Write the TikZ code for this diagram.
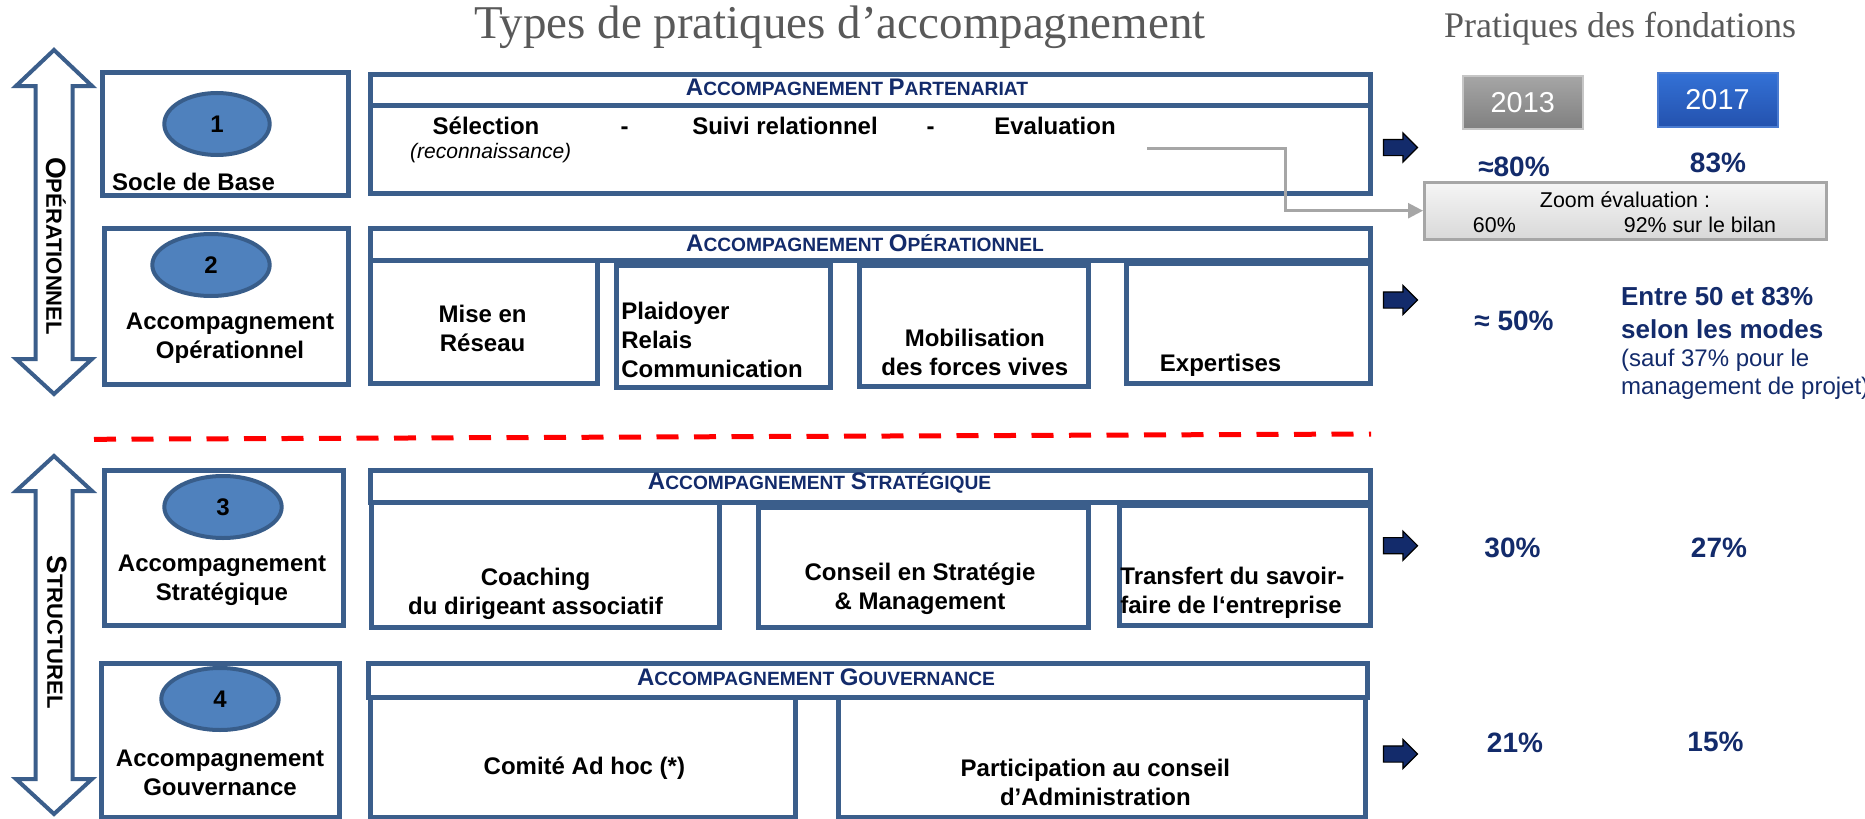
\documentclass[tikz,border=0pt]{standalone}
\usepackage{fontspec}
\setmainfont{Liberation Sans}
\newfontfamily\titlefont{Liberation Serif}
\usetikzlibrary{shapes.geometric,shapes.arrows,arrows.meta}

\definecolor{frameblue}{HTML}{3B5E8B}
\definecolor{numfill}{HTML}{4F81BD}
\definecolor{numline}{HTML}{385D8A}
\definecolor{navy}{HTML}{132B6B}
\definecolor{titlegray}{HTML}{595959}
\definecolor{linkgray}{HTML}{A6A6A6}

% fake small caps: big first letter, small rest
\newcommand{\capsA}[2]{{\fontsize{12}{14}\selectfont #1}{\fontsize{9.6}{14}\selectfont #2}}
\newcommand{\capsB}[2]{{\fontsize{14}{16}\selectfont #1}{\fontsize{11}{16}\selectfont #2}}

\tikzset{
  cell/.style={draw=frameblue,line width=2.5pt,fill=white,inner sep=0pt,anchor=north west},
  dblarrow/.style={draw=frameblue,line width=2pt,fill=white,line join=miter},
  linkline/.style={draw=linkgray,line width=1.3pt,-{Triangle[length=7.5pt,width=7.5pt]}}
}

\begin{document}
\begin{tikzpicture}[x=0.5pt,y=-0.5pt,
  boxtxt/.style={font=\fontsize{12}{14.5}\selectfont\bfseries,align=center,inner sep=0pt},
  headtxt/.style={font=\bfseries,text=navy,inner sep=0pt},
  pct/.style={font=\fontsize{14}{16}\selectfont\bfseries,text=navy,inner sep=0pt},
  numoval/.style={ellipse,draw=numline,line width=2pt,fill=numfill,minimum height=31pt,inner sep=0pt,font=\fontsize{12}{14}\selectfont\bfseries},
  blockarrow/.style={single arrow,fill=navy,draw=black,line width=0.6pt,minimum height=17pt,inner xsep=0pt,inner ysep=3.75pt,single arrow head extend=3.25pt},
  smalltxt/.style={font=\fontsize{10.7}{12}\selectfont,inner sep=0pt}]

\path[use as bounding box,fill=white] (0,0) rectangle (1865,819);

% titles
\node[font=\titlefont\fontsize{23.5}{26}\selectfont,text=titlegray,anchor=base] (title) at (840,39) {Types de pratiques d’accompagnement};
\node[font=\titlefont\fontsize{18}{20}\selectfont,text=titlegray,anchor=base] (subtitle) at (1620,38) {Pratiques des fondations};

% vertical double arrows
\draw[dblarrow] (54,50) -- (92,86) -- (72.5,86) -- (72.5,359) -- (92,359) -- (54,394) -- (16,359) -- (35.5,359) -- (35.5,86) -- (16,86) -- cycle;
\draw[dblarrow] (54,456) -- (92,491) -- (72.5,491) -- (72.5,779) -- (92,779) -- (54,814) -- (16,779) -- (35.5,779) -- (35.5,491) -- (16,491) -- cycle;
\node[rotate=-90,font=\bfseries,inner sep=0pt] (oper) at (56,246) {\capsB{O}{PÉRATIONNEL}};
\node[rotate=-90,font=\bfseries,inner sep=0pt] (struct) at (57,632) {\capsB{S}{TRUCTUREL}};

% left boxes
\node[cell,minimum width=123pt,minimum height=61.5pt] (B1) at (100,70) {};
\node[cell,minimum width=122pt,minimum height=78pt] (B2) at (102,226) {};
\node[cell,minimum width=119.5pt,minimum height=77.5pt] (B3) at (102,468) {};
\node[cell,minimum width=119pt,minimum height=77pt] (B4) at (99,661) {};
\foreach \x/\y/\w [count=\n] in {217/124/52.7,211/265/58.7,223/507/58.7,220/699/58.7}
  \node[numoval,minimum width=\w pt] (E\n) at (\x,\y) {\n};
\node[boxtxt] (t1) at (193.5,182) {Socle de Base};
\node[boxtxt] (t2) at (230,338) {Accompagnement\\Opérationnel};
\node[boxtxt] (t3) at (222,580) {Accompagnement\\Stratégique};
\node[boxtxt] (t4) at (220,773) {Accompagnement\\Gouvernance};

% partenariat
\node[cell,minimum width=500pt,minimum height=44pt] (P1) at (368,103) {};
\node[cell,minimum width=500pt,minimum height=15.5pt] (H1) at (368,72) {};
\node[headtxt] (h1) at (857,87) {\capsA{A}{CCOMPAGNEMENT} \capsA{P}{ARTENARIAT}};
\node[boxtxt] (selec) at (486,126) {Sélection};
\node[font=\fontsize{10.5}{12}\selectfont\itshape,inner sep=0pt] (reco) at (490.7,153) {(reconnaissance)};
\node[boxtxt,anchor=base] (d1) at (624.6,134.5) {-};
\node[boxtxt] (suivi) at (785,126) {Suivi relationnel};
\node[boxtxt,anchor=base] (d2) at (930.6,134.5) {-};
\node[boxtxt] (evalu) at (1055,126) {Evaluation};

% operationnel
\node[cell,minimum width=500pt,minimum height=16pt] (H2) at (368,226) {};
\node[headtxt] (h2) at (865,243) {\capsA{A}{CCOMPAGNEMENT} \capsA{O}{PÉRATIONNEL}};
\node[cell,minimum width=113.5pt,minimum height=61.5pt] (mise) at (368,258) {};
\node[cell,minimum width=107pt,minimum height=61pt] (plaid) at (614,263) {};
\node[cell,minimum width=114.5pt,minimum height=60.5pt] (mobil) at (857,263) {};
\node[cell,minimum width=122pt,minimum height=60pt] (exper) at (1124,261) {};
\node[boxtxt] (t5) at (482.6,328) {Mise en\\Réseau};
\node[boxtxt,align=left,anchor=west] (t6) at (621,340) {Plaidoyer\\Relais\\Communication};
\node[boxtxt] (t7) at (974.8,352.5) {Mobilisation\\des forces vives};
\node[boxtxt] (t8) at (1220.6,365) {Expertises};

% dashed cut
\coordinate (cutL) at (94,439.3);
\coordinate (cutR) at (1371,434);
\draw[red,line width=2.5pt,dash pattern=on 11pt off 7.75pt] (cutL) -- (cutR);

% strategique
\node[cell,minimum width=500pt,minimum height=16pt] (H3) at (368,468) {};
\node[headtxt] (h3) at (819.6,483) {\capsA{A}{CCOMPAGNEMENT} \capsA{S}{TRATÉGIQUE}};
\node[cell,minimum width=174pt,minimum height=62.5pt] (coach) at (369,500) {};
\node[cell,minimum width=165pt,minimum height=60pt] (cons) at (756,505) {};
\node[cell,minimum width=125.5pt,minimum height=60pt] (trans) at (1117,503) {};
\node[boxtxt] (t9) at (535.5,594) {Coaching\\du dirigeant associatif};
\node[boxtxt] (t10) at (920,589) {Conseil en Stratégie\\\& Management};
\node[boxtxt,align=left,anchor=west] (t11) at (1120,592.5) {Transfert du savoir-\\faire de l‘entreprise};

% gouvernance
\node[cell,minimum width=499.5pt,minimum height=17pt] (H4) at (366,661) {};
\node[headtxt] (h4) at (816,677) {\capsA{A}{CCOMPAGNEMENT} \capsA{G}{OUVERNANCE}};
\node[cell,minimum width=212.5pt,minimum height=60pt] (comite) at (368,695) {};
\node[cell,minimum width=263.5pt,minimum height=60pt] (partic) at (836,695) {};
\node[boxtxt] (t12) at (584.4,768) {Comité Ad hoc (*)};
\node[boxtxt] (t13) at (1095.4,782) {Participation au conseil\\d’Administration};

% right column
\node[draw=gray!45,line width=1pt,top color=gray!70,bottom color=gray,minimum width=59.75pt,minimum height=26.5pt,inner sep=0pt,text=white,font=\fontsize{14.4}{16}\selectfont] (y13) at (1522.75,102.5) {2013};
\node[draw={rgb,255:red,74;green,123;blue,208},line width=1pt,top color={rgb,255:red,51;green,113;blue,214},bottom color={rgb,255:red,36;green,82;blue,174},minimum width=60pt,minimum height=27pt,inner sep=0pt,text=white,font=\fontsize{14.4}{16}\selectfont] (y17) at (1717.5,99.7) {2017};

\foreach \y [count=\n] in {147.5,300,545.7,754}
  \node[blockarrow] (A\n) at (1396.5,\y) {};

\node[pct] (p1a) at (1514,166.7) {≈80\%};
\node[pct] (p1b) at (1718,162.7) {83\%};
\node[pct] (p2a) at (1514,320.7) {≈ 50\%};
\node[pct] (p3a) at (1512.5,548.3) {30\%};
\node[pct] (p3b) at (1719,548.3) {27\%};
\node[pct] (p4a) at (1515,742.7) {21\%};
\node[pct] (p4b) at (1715.5,742) {15\%};
\node[font=\fontsize{13}{16.3}\selectfont\bfseries,text=navy,align=left,anchor=west,inner sep=0pt] (p2b) at (1620.7,313) {Entre 50 et 83\%\\selon les modes};
\node[font=\fontsize{12}{14.2}\selectfont,text=navy,align=left,anchor=west,inner sep=0pt] (p2c) at (1620.7,374.2) {(sauf 37\% pour le\\management de projet)};

% zoom evaluation
\node[draw=linkgray,line width=1.5pt,top color=gray!8,bottom color=gray!30,minimum width=201pt,minimum height=28.3pt,inner sep=0pt] (zoombox) at (1625.5,210.7) {};
\node[smalltxt] (z1) at (1625,199.3) {Zoom évaluation :};
\node[smalltxt] (z2) at (1494.4,225) {60\%};
\node[smalltxt] (z3) at (1700,225) {92\% sur le bilan};
\coordinate (evalstart) at (1147,148.3);
\coordinate (evalbend) at (1285.5,148.3);
\draw[linkline] (evalstart) -- (evalbend) |- (zoombox.west);
\end{tikzpicture}
\end{document}
